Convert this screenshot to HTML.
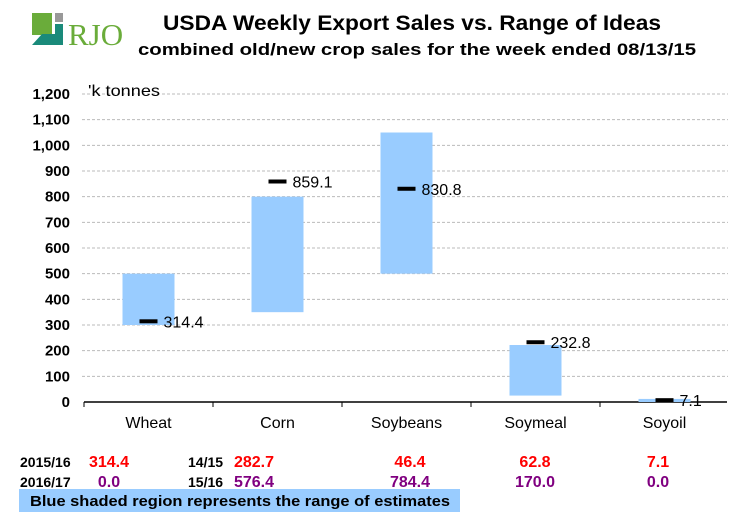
<!DOCTYPE html>
<html><head><meta charset="utf-8"><style>
body{margin:0;background:#fff;}
svg text{font-family:"Liberation Sans",Arial,sans-serif;}
</style></head><body>
<svg width="756" height="516" xmlns="http://www.w3.org/2000/svg">
<g>
<rect x="32" y="13" width="20" height="22" fill="#6aac3a"/>
<rect x="55" y="13" width="8" height="9" fill="#999"/>
<polygon points="32,45 63,45 63,24 55,24 55,34 42,34" fill="#1a8a7a"/>
<text x="68" y="45" style="font-family:'Liberation Serif',serif" font-size="31" fill="#6aac3a">RJO</text>
</g>
<text x="412" y="30" text-anchor="middle" font-size="21" font-weight="bold" textLength="498" lengthAdjust="spacingAndGlyphs">USDA Weekly Export Sales vs. Range of Ideas</text>
<text x="417" y="55" text-anchor="middle" font-size="17" font-weight="bold" textLength="558" lengthAdjust="spacingAndGlyphs">combined old/new crop sales for the week ended 08/13/15</text>
<g id="grid"></g>
<g id="marks"></g>
<text x="88" y="96" font-size="16" textLength="72" lengthAdjust="spacingAndGlyphs">'k tonnes</text>
<g id="table" font-weight="bold"></g>
<rect x="19" y="489" width="441" height="23" fill="#99ccff"/>
<text x="30" y="506" font-size="15" font-weight="bold" textLength="420" lengthAdjust="spacingAndGlyphs">Blue shaded region represents the range of estimates</text>
</svg>
<script>
const categories=["Wheat","Corn","Soybeans","Soymeal","Soyoil"];
const rangeLow=[300,350,500,25,0];
const rangeHigh=[500,800,1050,222,12];
const actual=[314.4,859.1,830.8,232.8,7.1];
const yTicks=[0,100,200,300,400,500,600,700,800,900,1000,1100,1200];
const row1=["314.4","282.7","46.4","62.8","7.1"];
const row2=["0.0","576.4","784.4","170.0","0.0"];
const NS="http://www.w3.org/2000/svg";
const x0=84,cw=129,y0=402,ky=308/1200;
const Y=v=>y0-v*ky, X=i=>x0+cw*(i+0.5);
function mk(t,a,p){const e=document.createElementNS(NS,t);for(const k in a)e.setAttribute(k,a[k]);p.appendChild(e);return e;}
const g=document.getElementById('grid'),m=document.getElementById('marks'),tb=document.getElementById('table');
yTicks.forEach(v=>{
 if(v>0){const l=mk('line',{x1:82,x2:728,y1:Y(v),y2:Y(v),stroke:'#bbb','stroke-dasharray':'3,2'},g);
 
 }
 const t=mk('text',{x:70,y:Y(v)+5,'text-anchor':'end','font-size':15,'font-weight':'bold'},g);t.textContent=v.toLocaleString('en-US');
 
 
});
const ax=mk('line',{x1:x0,x2:x0+cw*5-2,y1:y0,y2:y0,stroke:'#000','stroke-width':1.5},g);


for(let i=0;i<=4;i++){const tk=mk('line',{x1:x0+cw*i,x2:x0+cw*i,y1:y0,y2:y0+5,stroke:'#000'},g);
 
 }
categories.forEach((c,i)=>{
 const cx=X(i);
 const r=mk('rect',{x:cx-26,y:Y(rangeHigh[i]),width:52,height:Y(rangeLow[i])-Y(rangeHigh[i]),fill:'#99ccff'},m);
 
 
 const d=mk('rect',{x:cx-9,y:Y(actual[i])-2,width:18,height:4,fill:'#000'},m);
 
 
 const lt=mk('text',{x:cx+15,y:Y(actual[i])+6,'font-size':16},m);lt.textContent=actual[i].toFixed(1);
 
 
 const ct=mk('text',{x:cx,y:428,'text-anchor':'middle','font-size':16},m);ct.textContent=c;
 
 
});
const vcol=[109,254,410,535,658];
function cell(txt,x,y,col,anchor,fs){const t=mk('text',{x:x,y:y,fill:col,'text-anchor':anchor,'font-size':fs},tb);t.textContent=txt;
 
 }
cell("2015/16",20,467,'#000','start',14);cell("2016/17",20,487,'#000','start',14);
cell("14/15",188,467,'#000','start',14);cell("15/16",188,487,'#000','start',14);
row1.forEach((v,i)=>cell(v,vcol[i],467,'#ff0000','middle',16));
row2.forEach((v,i)=>cell(v,vcol[i],487,'#800080','middle',16));
</script>
</body></html>
